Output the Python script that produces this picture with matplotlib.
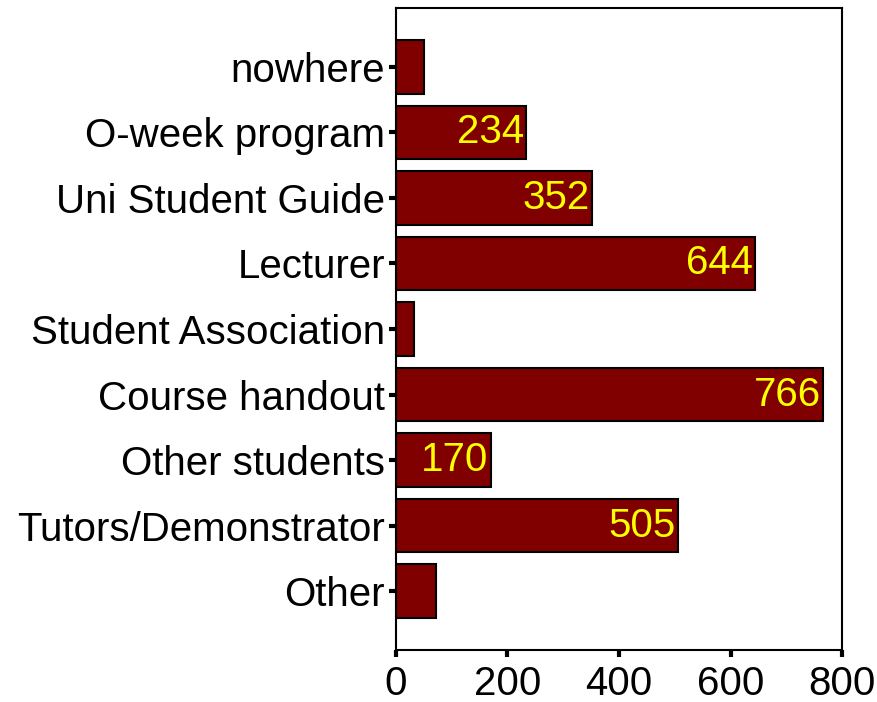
import matplotlib
matplotlib.use("Agg")
import matplotlib.pyplot as plt

categories = ["nowhere", "O-week program", "Uni Student Guide", "Lecturer",
              "Student Association", "Course handout", "Other students",
              "Tutors/Demonstrator", "Other"]
values = [50, 234, 352, 644, 32, 766, 170, 505, 72]
shown_labels = [None, "234", "352", "644", None, "766", "170", "505", None]
xticks = [0, 200, 400, 600, 800]

plt.rcParams['font.family'] = ['Liberation Sans', 'DejaVu Sans']

fig = plt.figure(figsize=(8.78, 7.02), dpi=100)
ax = fig.add_axes([396/878, 1-650/702, (842-396)/878, (650-8)/702])

y = list(range(len(categories)))
bars = ax.barh(y, values, height=0.82, color="#800000", edgecolor="black", linewidth=1.5)
for b, lab in zip(bars, shown_labels):
    if lab:
        ax.text(b.get_width() - 4, b.get_y() + b.get_height()/2, lab,
                ha="right", va="center", color="#FFFF00", fontsize=29)

ax.set_xlim(0, 800)
ax.set_ylim(len(categories) - 0.1, -0.9)
ax.set_yticks(y)
ax.set_yticklabels(categories)
ax.set_xticks(xticks)
ax.set_xticklabels([str(t) for t in xticks])
ax.tick_params(axis='both', direction='out', length=5, width=3, labelsize=29, color='black')
ax.tick_params(axis='y', pad=3)
ax.tick_params(axis='x', pad=6)
for s in ax.spines.values():
    s.set_linewidth(1.5)

fig.savefig("out.png", dpi=100)
